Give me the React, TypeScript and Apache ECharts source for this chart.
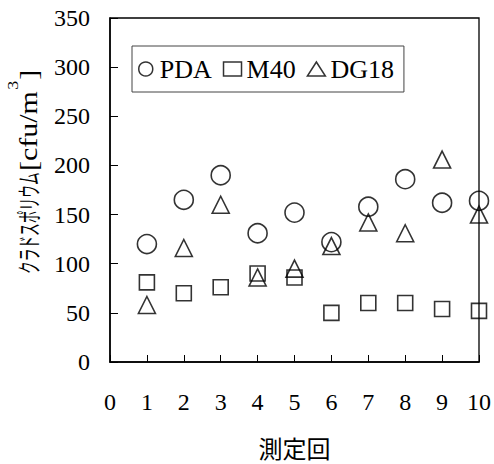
import React, { useEffect, useRef } from "react";
import * as echarts from "echarts";

// Measurement runs (x axis) and colony counts per medium [cfu/m3]
const runs = [1, 2, 3, 4, 5, 6, 7, 8, 9, 10];
const pdaValues = [120, 165, 190, 131, 152, 122, 158, 186, 162, 164];
const m40Values = [81, 70, 76, 90, 86, 50, 60, 60, 54, 52];
const dg18Values = [58, 116, 160, 86, 95, 118, 142, 131, 206, 150];

const seriesNames = ["PDA", "M40", "DG18"];
const xAxisName = "測定回";
const yNameKana = "クラドスポリウム";
const yNameUnit = "{b|[cfu/m}{s|3}{b|]}";

const SERIF = '"Liberation Serif", "Times New Roman", serif';
const CJK = '"Noto Sans CJK JP", sans-serif';

const toPairs = (vals: number[]) => runs.map((r, i) => [r, vals[i]]);

const markerStyle = {
  color: "rgba(0,0,0,0)",
  borderColor: "#000",
  borderWidth: 1.6,
};

export default function App() {
  const ref = useRef<HTMLDivElement>(null);

  useEffect(() => {
    if (!ref.current) return;
    const chart = echarts.init(ref.current, undefined, { renderer: "svg" });

    chart.setOption({
      animation: false,
      backgroundColor: "#fff",
      textStyle: { fontFamily: SERIF, color: "#000" },
      grid: {
        left: 110,
        right: 14,
        top: 18,
        bottom: 101,
        show: true,
        borderColor: "#000",
        borderWidth: 1.3,
        backgroundColor: "rgba(0,0,0,0)",
      },
      legend: {
        left: 132,
        top: 46,
        orient: "horizontal",
        data: seriesNames,
        itemWidth: 18,
        itemHeight: 14,
        itemGap: 11,
        padding: [10, 10, 10, 6],
        borderColor: "#444",
        borderWidth: 1,
        backgroundColor: "#fff",
        itemStyle: { ...markerStyle, borderWidth: 1.5 },
        textStyle: { fontFamily: SERIF, fontSize: 26, color: "#000" },
        selectedMode: false,
      },
      xAxis: {
        type: "value",
        min: 0,
        max: 10,
        interval: 1,
        name: xAxisName,
        nameLocation: "middle",
        nameGap: 73,
        nameTextStyle: { fontFamily: CJK, fontSize: 24, color: "#000" },
        axisLine: { show: true, lineStyle: { color: "#000", width: 1.5 } },
        axisTick: { show: true, inside: true, length: 7, lineStyle: { color: "#000", width: 1 } },
        axisLabel: { fontFamily: SERIF, fontSize: 24, color: "#000", margin: 28 },
        splitLine: { show: false },
      },
      yAxis: {
        type: "value",
        min: 0,
        max: 350,
        interval: 50,
        axisLine: { show: true, lineStyle: { color: "#000", width: 1.5 } },
        axisTick: { show: true, inside: true, length: 8, lineStyle: { color: "#000", width: 1 } },
        axisLabel: { fontFamily: SERIF, fontSize: 24, color: "#000", margin: 20 },
        splitLine: { show: false },
      },
      graphic: [
        {
          type: "group",
          x: 28,
          y: 274,
          rotation: Math.PI / 2,
          silent: true,
          children: [
            {
              type: "text",
              x: 0,
              y: 0,
              scaleX: 0.53,
              style: {
                text: yNameKana,
                font: `24px ${CJK}`,
                fill: "#000",
                align: "left",
                verticalAlign: "middle",
              },
            },
            {
              type: "text",
              x: 103,
              y: 0,
              scaleX: 1.2,
              style: {
                text: yNameUnit,
                fill: "#000",
                align: "left",
                verticalAlign: "middle",
                rich: {
                  b: {
                    fontFamily: SERIF,
                    fontSize: 25,
                    lineHeight: 44,
                    fill: "#000",
                  },
                  s: {
                    fontFamily: SERIF,
                    fontSize: 15,
                    lineHeight: 15,
                    verticalAlign: "top",
                    padding: [0, 1],
                    fill: "#000",
                  },
                },
              },
            },
          ],
        },
      ],
      series: [
        {
          type: "scatter",
          name: seriesNames[0],
          symbol: "circle",
          symbolSize: 19,
          data: toPairs(pdaValues),
          itemStyle: markerStyle,
          emphasis: { disabled: true },
        },
        {
          type: "scatter",
          name: seriesNames[1],
          symbol: "rect",
          symbolSize: 15,
          data: toPairs(m40Values),
          itemStyle: markerStyle,
          emphasis: { disabled: true },
        },
        {
          type: "scatter",
          name: seriesNames[2],
          symbol: "triangle",
          symbolSize: 17,
          data: toPairs(dg18Values),
          itemStyle: markerStyle,
          emphasis: { disabled: true },
        },
      ],
    });

    return () => chart.dispose();
  }, []);

  return (
    <div
      ref={ref}
      style={{ position: "absolute", left: 0, top: 0, width: 494, height: 464 }}
    />
  );
}
